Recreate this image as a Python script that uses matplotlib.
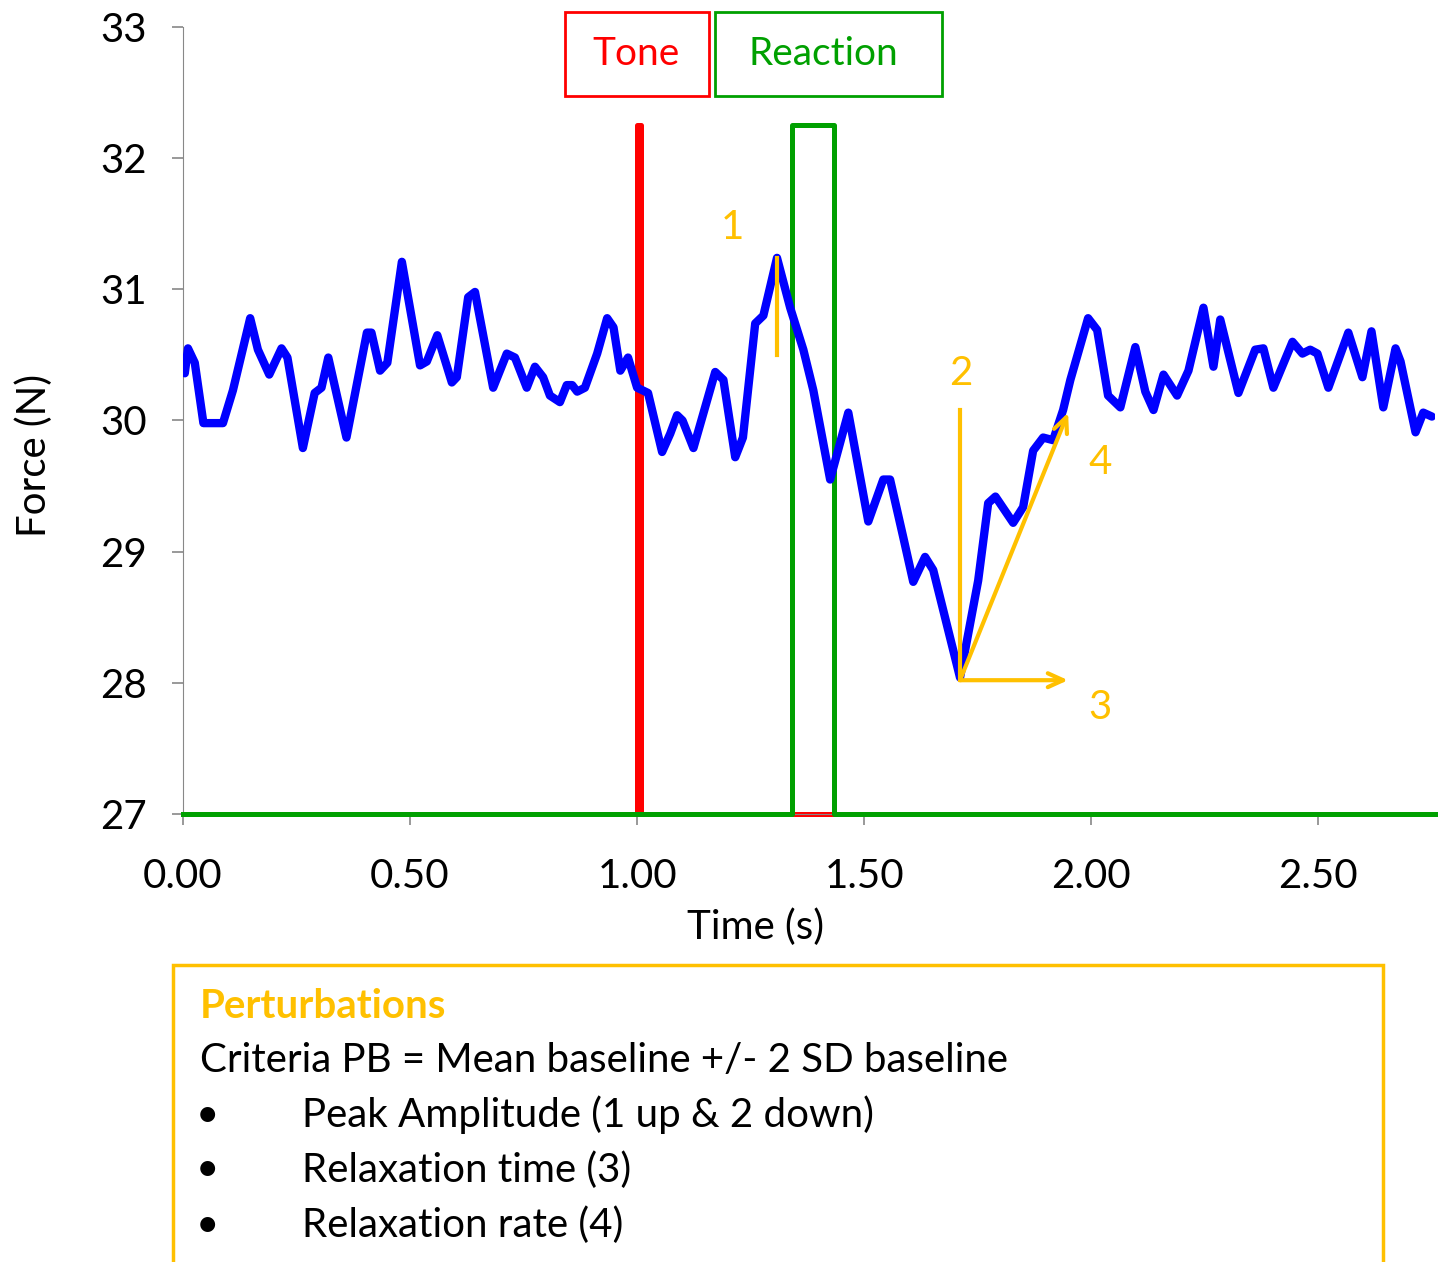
import matplotlib.pyplot as plt
from matplotlib.patches import Rectangle

plt.rcParams['font.family'] = ['Lato', 'DejaVu Sans']

# Force signal (s, N)
t = [0.004, 0.011, 0.026, 0.045, 0.088, 0.11, 0.148, 0.165, 0.19, 0.217, 0.23, 0.264,
     0.29, 0.305, 0.32, 0.36, 0.405, 0.415, 0.434, 0.45, 0.482, 0.522, 0.537, 0.56,
     0.592, 0.603, 0.628, 0.643, 0.683, 0.713, 0.731, 0.757, 0.775, 0.793, 0.808,
     0.83, 0.845, 0.857, 0.868, 0.885, 0.912, 0.934, 0.948, 0.963, 0.98, 1.0, 1.024,
     1.055, 1.073, 1.088, 1.10, 1.124, 1.172, 1.19, 1.216, 1.233, 1.26, 1.278, 1.308,
     1.337, 1.366, 1.388, 1.425, 1.465, 1.509, 1.542, 1.557, 1.586, 1.608, 1.634,
     1.652, 1.711, 1.751, 1.773, 1.789, 1.828, 1.85, 1.872, 1.894, 1.916, 1.938,
     1.954, 1.993, 2.013, 2.037, 2.064, 2.097, 2.119, 2.137, 2.159, 2.189, 2.214,
     2.247, 2.269, 2.284, 2.324, 2.361, 2.379, 2.401, 2.443, 2.465, 2.482, 2.498,
     2.522, 2.566, 2.597, 2.617, 2.643, 2.67, 2.681, 2.714, 2.731, 2.75]
force = [30.36, 30.55, 30.44, 29.98, 29.98, 30.23, 30.78, 30.54, 30.35, 30.55, 30.48, 29.79,
         30.21, 30.25, 30.48, 29.87, 30.67, 30.67, 30.38, 30.44, 31.21, 30.42, 30.45, 30.65,
         30.29, 30.33, 30.94, 30.98, 30.25, 30.51, 30.48, 30.25, 30.41, 30.33, 30.19,
         30.14, 30.27, 30.27, 30.22, 30.25, 30.51, 30.78, 30.71, 30.38, 30.48, 30.25, 30.21,
         29.76, 29.9, 30.04, 30.0, 29.79, 30.37, 30.31, 29.72, 29.87, 30.74, 30.80, 31.24,
         30.86, 30.54, 30.23, 29.55, 30.06, 29.23, 29.55, 29.55, 29.11, 28.77, 28.96,
         28.86, 28.04, 28.78, 29.37, 29.42, 29.22, 29.34, 29.77, 29.87, 29.85, 30.08,
         30.31, 30.78, 30.69, 30.19, 30.10, 30.56, 30.22, 30.08, 30.35, 30.19, 30.38,
         30.86, 30.41, 30.77, 30.21, 30.54, 30.55, 30.25, 30.60, 30.51, 30.54, 30.51,
         30.25, 30.67, 30.33, 30.68, 30.10, 30.55, 30.45, 29.91, 30.06, 30.03]

# Tone and reaction markers
tone_t = [0, 1.0, 1.0, 1.008, 1.008, 2.757]
tone_v = [27, 27, 32.25, 32.25, 27, 27]
react_t = [0, 1.341, 1.341, 1.434, 1.434, 2.757]
react_v = [27, 27, 32.25, 32.25, 27, 27]

x_ticks = [0, 0.5, 1.0, 1.5, 2.0, 2.5]
y_ticks = [27, 28, 29, 30, 31, 32, 33]

gold = '#FFC000'
green = '#00A000'
fs = 29

fig = plt.figure(figsize=(14.43, 12.62), dpi=100)
ax = fig.add_axes([0.1268, 0.355, 0.8677, 0.6236])

ax.plot(tone_t, tone_v, color='red', linewidth=3.6, clip_on=False, zorder=2)
ax.plot(react_t, react_v, color=green, linewidth=3.6, clip_on=False, zorder=3)
ax.plot(t, force, color='#0000FF', linewidth=6, solid_joinstyle='round',
        solid_capstyle='round', zorder=4)

# Annotations 1-4
arrow = dict(arrowstyle='->,head_length=1.1,head_width=0.5', color=gold, linewidth=3,
             shrinkA=0, shrinkB=0)
ax.plot([1.308, 1.308], [30.5, 31.24], color=gold, linewidth=3, zorder=5)
ax.text(1.21, 31.47, '1', color=gold, fontsize=fs, ha='center', va='center')
ax.plot([1.711, 1.711], [30.08, 28.02], color=gold, linewidth=3, zorder=5)
ax.text(1.713, 30.36, '2', color=gold, fontsize=fs, ha='center', va='center')
ax.annotate('', xy=(1.949, 28.02), xytext=(1.711, 28.02), arrowprops=arrow, zorder=5)
ax.text(2.02, 27.81, '3', color=gold, fontsize=fs, ha='center', va='center')
ax.annotate('', xy=(1.949, 30.06), xytext=(1.711, 28.02), arrowprops=arrow, zorder=5)
ax.text(2.02, 29.68, '4', color=gold, fontsize=fs, ha='center', va='center')

ax.set_xlim(0, 2.757)
ax.set_ylim(27, 33)
ax.set_xticks(x_ticks)
ax.set_xticklabels([f'{v:.2f}' for v in x_ticks])
ax.set_yticks(y_ticks)
ax.tick_params(axis='both', labelsize=fs, color='#888888', length=8, width=1.2)
ax.tick_params(axis='x', pad=24)
ax.tick_params(axis='y', pad=18)
for s in ['top', 'right']:
    ax.spines[s].set_visible(False)
ax.spines['left'].set_color('#888888')
ax.spines['bottom'].set_color('#888888')

ax.set_xlabel('Time (s)', fontsize=fs)
ax.set_ylabel('Force (N)', fontsize=fs)
ax.xaxis.set_label_coords(0.457, -0.12)
ax.yaxis.set_label_coords(-0.104, 0.456)

# Legend boxes on top
W, H = 1443, 1262
fig.patches.append(Rectangle((565 / W, 1 - 96 / H), 144 / W, 84 / H, transform=fig.transFigure,
                             fill=False, edgecolor='red', linewidth=2))
fig.text(636 / W, 1 - 54 / H, 'Tone', color='red', fontsize=28, ha='center', va='center')
fig.patches.append(Rectangle((715 / W, 1 - 96 / H), 227 / W, 84 / H, transform=fig.transFigure,
                             fill=False, edgecolor=green, linewidth=2))
fig.text(823 / W, 1 - 54 / H, 'Reaction', color=green, fontsize=28, ha='center', va='center')

# Perturbations box
fig.patches.append(Rectangle((173 / W, -0.05), 1210 / W, 0.05 + 1 - 965 / H,
                             transform=fig.transFigure, fill=False, edgecolor=gold,
                             linewidth=2.5, clip_on=False))
fig.text(200 / W, 1 - 1006 / H, 'Perturbations', color=gold, fontsize=fs,
         fontweight='bold', ha='left', va='center')
fig.text(200 / W, 1 - 1060 / H, 'Criteria PB = Mean baseline +/- 2 SD baseline',
         fontsize=fs, ha='left', va='center')
items = ['Peak Amplitude (1 up & 2 down)', 'Relaxation time (3)', 'Relaxation rate (4)']
for i, item in enumerate(items):
    y = 1 - (1115 + 55 * i) / H
    fig.text(207 / W, y, '•', fontsize=fs, ha='center', va='center')
    fig.text(302 / W, y, item, fontsize=fs, ha='left', va='center')

fig.savefig('out.png', dpi=100)
